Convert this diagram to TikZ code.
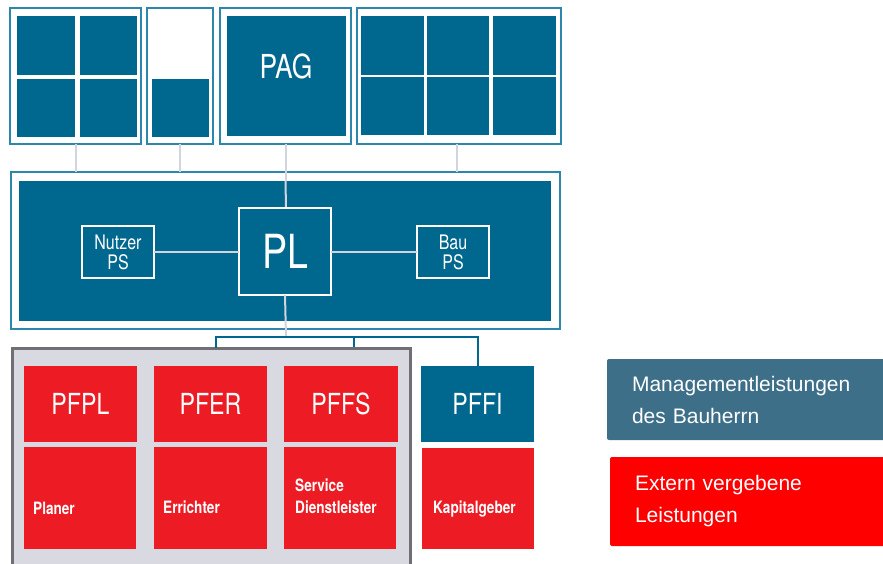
\documentclass[tikz,border=0pt]{standalone}
\usepackage{fontspec}
\setmainfont{Liberation Sans}
\newfontfamily\din[FakeStretch=0.8]{TeX Gyre Heros}
\definecolor{dblue}{RGB}{0,103,142}
\definecolor{frameblue}{RGB}{45,135,172}
\definecolor{lgray}{RGB}{212,212,222}
\definecolor{pred}{RGB}{237,28,36}
\definecolor{gfill}{RGB}{217,217,225}
\definecolor{gline}{RGB}{112,112,116}
\definecolor{legblue}{RGB}{61,111,137}
\definecolor{legred}{RGB}{255,0,0}
\begin{document}
\begin{tikzpicture}[x=1pt,y=-1pt,
  wh/.style 2 args={minimum width=#1,minimum height=#2},
  base/.style={anchor=north west,inner sep=0,outer sep=0},
  frame/.style={base,draw=frameblue,line width=1.3,fill=white},
  sq/.style={base,fill=dblue},
  wsq/.style={sq,draw=white,line width=1.2},
  redbox/.style={base,fill=pred},
  link/.style={draw=lgray,line width=2},
  blink/.style={draw=dblue,line width=2},
  bigtxt/.style={text=white,font=\din\fontsize{29}{29}\selectfont},
  smalltxt/.style={text=white,font=\din\bfseries\fontsize{17}{21}\selectfont,anchor=base west,inner sep=0},
  legend/.style={base,rounded corners=2,text=white,align=left,text width=250,inner xsep=25,
    font=\fontsize{21}{32}\selectfont}]
\useasboundingbox (0,0) rectangle (883,563);
% top frames
\node[frame,wh={131}{136}] (F1) at (10,8) {};
\node[sq,wh={58}{59}] (a1) at (17,16) {};
\node[sq,wh={57}{59}] (a2) at (80,16) {};
\node[sq,wh={58}{58}] (a3) at (17,79) {};
\node[sq,wh={57}{58}] (a4) at (80,79) {};
\node[frame,wh={66}{136}] (F2) at (147,8) {};
\node[sq,wh={57}{58}] (b1) at (152,79) {};
\node[frame,wh={131}{136}] (F3) at (220,8) {};
\node[sq,wh={119}{120}] (PAG) at (227,16) {};
\node[bigtxt,font=\din\fontsize{33}{33}\selectfont] (PAGt) at (286,66) {PAG};
\node[frame,wh={204}{136}] (F4) at (357,8) {};
\node[sq,wh={63}{59}] (c1) at (361,16) {};
\node[sq,wh={62}{59}] (c2) at (427,16) {};
\node[sq,wh={63}{59}] (c3) at (493,16) {};
\node[sq,wh={63}{58}] (c4) at (361,77) {};
\node[sq,wh={62}{58}] (c5) at (427,77) {};
\node[sq,wh={63}{58}] (c6) at (493,77) {};
% main box
\node[frame,wh={549}{157}] (M) at (11,172) {};
\node[sq,wh={532}{140}] (Mi) at (19,181) {};
\draw[link] (F1.south) -- (F1.south |- M.north);
\draw[link] (F2.south) -- (F2.south |- M.north);
\draw[link] ([xshift=-2]F4.south) -- ([xshift=-2]F4.south |- M.north);
\draw[link] (F3.south) -- (F3.south |- Mi.north);
\draw[link] (F3.south |- Mi.north) -- (286,208);
\node[wsq,wh={92}{87},bigtxt,font=\din\fontsize{47}{47}\selectfont] (PL) at (239,208) {PL};
\node[wsq,wh={72}{52},text=white,align=center,font=\din\fontsize{20}{20}\selectfont] (NPS) at (82,226) {Nutzer\\PS};
\node[wsq,wh={72}{52},text=white,align=center,font=\din\fontsize{20}{20}\selectfont] (BPS) at (417,226) {Bau\\PS};
\draw[link] (NPS.east) -- (NPS.east -| PL.west);
\draw[link] (BPS.west) -- (BPS.west -| PL.east);
% lower part
\node[base,fill=gfill,draw=gline,line width=3,wh={398}{240}] (G) at (12,348) {};
\coordinate (j) at (286,337);
\draw[link] (PL.south) -- (j);
\node[sq,wh={113}{76},bigtxt] (PFFI) at (421,366) {PFFI};
\draw[blink,line cap=rect] (216,347) |- (j) -| (PFFI.north);
\draw[blink] (354,337) -- (354,347);
\node[redbox,wh={113}{76},bigtxt] (PFPL) at (24,366) {PFPL};
\node[redbox,wh={113}{76},bigtxt] (PFER) at (154,366) {PFER};
\node[redbox,wh={114}{76},bigtxt] (PFFS) at (284,366) {PFFS};
\node[redbox,wh={112}{102}] (PLAN) at (24,447) {};
\node[redbox,wh={113}{102}] (ERR) at (154,447) {};
\node[redbox,wh={112}{102}] (SERV) at (284,447) {};
\node[redbox,wh={112}{101}] (KAP) at (422,448) {};
\node[smalltxt] (t1) at (33,514) {Planer};
\node[smalltxt] (t2) at (163,513) {Errichter};
\node[smalltxt,align=left] (t3) at (295,491) {Service};
\node[smalltxt] (t3b) at (295,513) {Dienstleister};
\node[smalltxt] (t4) at (433,513) {Kapitalgeber};
% legend
\node[legend,fill=legblue,wh={280}{81}] (L1) at (607,359) {Managementleistungen\\des Bauherrn};
\node[legend,fill=legred,wh={280}{89}] (L2) at (610,457) {Extern vergebene\\Leistungen};
\end{tikzpicture}
\end{document}
